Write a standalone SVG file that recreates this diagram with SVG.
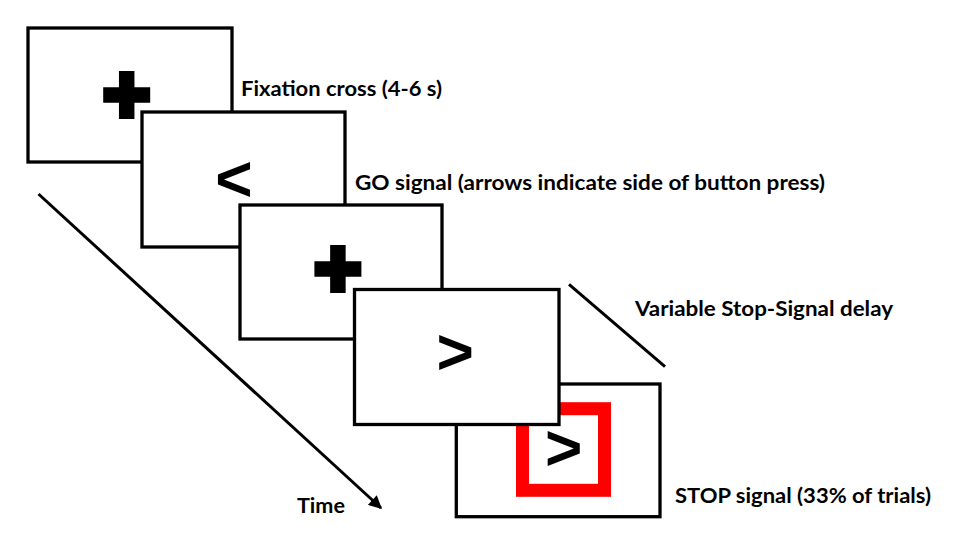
<svg xmlns="http://www.w3.org/2000/svg" width="957" height="552" viewBox="0 0 957 552">
  <style>
    .screen { fill: #ffffff; stroke: #000000; stroke-width: 3.3; }
    .label { font-family: Lato, "Liberation Sans", Arial, sans-serif; font-weight: bold; font-size: 20px; fill: #000000; }
    .stim { font-family: "Liberation Sans", Arial, sans-serif; font-weight: bold; font-size: 64px; fill: #000000; text-anchor: middle; }
    .conn { stroke: #000000; stroke-width: 3; fill: none; }
  </style>
  <defs>
    <path id="cross" d="M-7.75,-24 H7.75 V-7.75 H23.5 V7.75 H7.75 V24 H-7.75 V7.75 H-23.5 V-7.75 H-7.75 Z" fill="#000000"/>
    <marker id="arrow" viewBox="0 0 10 10" refX="9" refY="5" markerWidth="15" markerHeight="13" markerUnits="userSpaceOnUse" orient="auto">
      <path d="M0,0 L10,5 L0,10 Z" fill="#000000"/>
    </marker>
  </defs>
  <rect width="957" height="552" fill="#ffffff"/>

  <g id="screen1">
    <rect class="screen" x="28" y="28" width="204" height="134"/>
    <use href="#cross" x="126.7" y="95"/>
  </g>
  <g id="screen2">
    <rect class="screen" x="142" y="112" width="203" height="135"/>
    <text class="stim" x="234" y="200.5">&lt;</text>
  </g>
  <g id="screen3">
    <rect class="screen" x="240" y="205" width="202" height="134"/>
    <use href="#cross" x="337.9" y="269"/>
  </g>
  <g id="screen5">
    <rect class="screen" x="456.3" y="384" width="203.7" height="132.7"/>
    <rect x="522.5" y="408.7" width="82" height="81.6" fill="none" stroke="#ff0000" stroke-width="13"/>
    <text class="stim" x="563.7" y="470">&gt;</text>
  </g>
  <g id="screen4">
    <rect class="screen" x="354.5" y="289.5" width="204.5" height="135"/>
    <text class="stim" x="455.3" y="374">&gt;</text>
  </g>

  <g id="connectors">
    <line class="conn" x1="38.5" y1="194" x2="381" y2="508" marker-end="url(#arrow)"/>
    <line class="conn" x1="569" y1="284.3" x2="665" y2="366.7"/>
  </g>

  <g id="labels">
    <text class="label" x="241" y="96" textLength="201" lengthAdjust="spacingAndGlyphs">Fixation cross (4-6 s)</text>
    <text class="label" x="355" y="190" textLength="470" lengthAdjust="spacingAndGlyphs">GO signal (arrows indicate side of button press)</text>
    <text class="label" x="635" y="315.5" textLength="258" lengthAdjust="spacingAndGlyphs">Variable Stop-Signal delay</text>
    <text class="label" x="675" y="503" textLength="256" lengthAdjust="spacingAndGlyphs">STOP signal (33% of trials)</text>
    <text class="label" x="297" y="513" textLength="48" lengthAdjust="spacingAndGlyphs">Time</text>
  </g>
</svg>
